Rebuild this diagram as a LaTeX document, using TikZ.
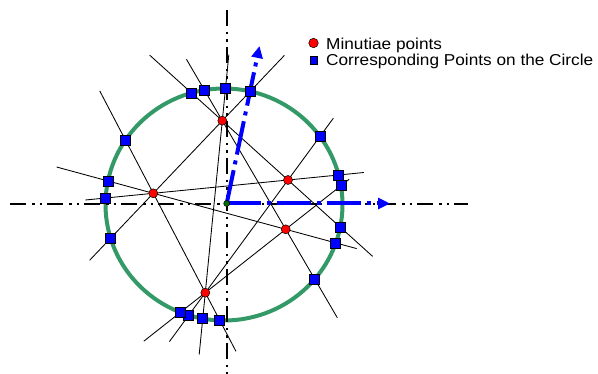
\documentclass[tikz,border=0pt]{standalone}
\usepackage{fontspec}
\setmainfont{Liberation Sans}
\usetikzlibrary{calc,intersections,arrows.meta}
\pgfdeclarelayer{background}
\pgfsetlayers{background,main}
\definecolor{ringgreen}{RGB}{51,153,102}
\definecolor{minred}{RGB}{255,0,0}
\definecolor{sqblue}{RGB}{0,0,255}
\definecolor{ctrgreen}{RGB}{0,110,0}
\begin{document}
\begin{tikzpicture}[x=1pt,y=-1pt,
  ring/.style={draw=ringgreen,line width=4pt},
  chord/.style={draw=black,line width=0.85pt},
  axisline/.style={draw=black,line width=2.3pt,dash pattern=on 16pt off 6pt on 2.5pt off 5pt on 2.5pt off 5pt},
  dirarrow/.style={draw=sqblue,line width=4pt,dash pattern=on 34pt off 6pt on 4pt off 6pt,-{Triangle[length=12pt,width=11pt]}},
  minutia/.style={circle,draw=black,line width=0.5pt,fill=minred,inner sep=0pt,minimum size=9pt},
  cpoint/.style={rectangle,draw=black,line width=0.7pt,fill=sqblue,inner sep=0pt,minimum size=10pt},
  ctr/.style={circle,draw=black,line width=0.5pt,fill=ctrgreen,inner sep=0pt,minimum size=6pt},
  legtext/.style={anchor=base west,font=\fontsize{15.8}{18}\selectfont,inner sep=0pt}
]
\useasboundingbox (0,0) rectangle (598,374);
% minutiae
\node[minutia] (A) at (222.3,120.7) {};
\node[minutia] (B) at (288,180) {};
\node[minutia] (C) at (153.3,193.3) {};
\node[minutia] (D) at (285.7,229.3) {};
\node[minutia] (E) at (205.3,292.7) {};
\coordinate (O) at (224,204.5);
\coordinate (hxa) at (10,203.7);
\coordinate (hxb) at (468,203.7);
\coordinate (vya) at (226.7,10);
\coordinate (vyb) at (226.7,374);
\begin{pgfonlayer}{background}
\draw[ring,name path=ring] (O) ellipse [x radius=118.5pt, y radius=116pt];
\draw[chord,name path=L1] ($(A)!-1.106!(B)$) -- ($(A)!2.288!(B)$);
\draw[chord,name path=L2] ($(A)!-0.565!(D)$) -- ($(A)!1.815!(D)$);
\draw[chord,name path=L3] ($(C)!-1.03!(E)$) -- ($(C)!1.59!(E)$);
\draw[chord,name path=L4] ($(A)!-0.9!(C)$) -- ($(A)!1.923!(C)$);
\draw[chord,name path=L5] ($(A)!-0.384!(E)$) -- ($(A)!1.36!(E)$);
\draw[chord,name path=L6] ($(B)!-0.549!(E)$) -- ($(B)!1.434!(E)$);
\draw[chord,name path=L7] ($(C)!-0.504!(B)$) -- ($(C)!1.563!(B)$);
\draw[chord,name path=L8] ($(D)!-0.79!(E)$) -- ($(D)!1.765!(E)$);
\draw[chord,name path=L9] ($(C)!-0.73!(D)$) -- ($(C)!1.536!(D)$);
\draw[axisline] (hxa) -- (hxb);
\draw[axisline] (vya) -- (vyb);
\end{pgfonlayer}
% direction arrows
\coordinate (c0) at (226.7,203.5);
\coordinate (tipx) at (390,203.5);
\coordinate (tipy) at (259.5,46);
\draw[dirarrow] (c0) -- (tipx);
\draw[dirarrow] (c0) -- (tipy);
\node[ctr] (C0) at (c0) {};
% corresponding points on the circle
\foreach \l in {1,...,9}{
  \path[name intersections={of=ring and L\l, by={s\l a,s\l b}}];
  \node[cpoint] (q\l a) at (s\l a) {};
  \node[cpoint] (q\l b) at (s\l b) {};
}
% legend
\node[minutia,minimum size=9.5pt] (legA) at (313.5,43) {};
\node[cpoint,minimum size=7.5pt] (legB) at (314,60.5) {};
\node[legtext] (legAt) at (326,50) {\scalebox{1.09}[1]{Minutiae points}};
\node[legtext] (legBt) at (326,65.5) {\scalebox{1.09}[1]{Corresponding Points on the Circle}};
\end{tikzpicture}
\end{document}
